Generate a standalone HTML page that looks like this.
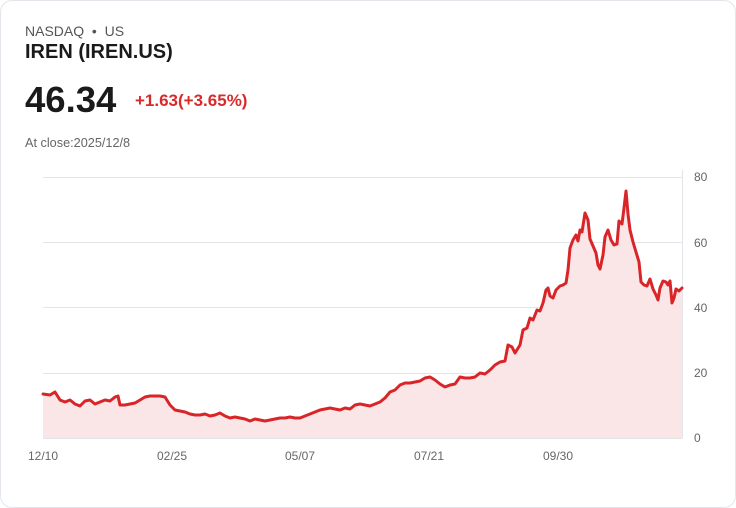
<!DOCTYPE html>
<html><head><meta charset="utf-8"><style>
body{margin:0;background:#fff;font-family:"Liberation Sans",sans-serif;}
.card{position:absolute;left:0;top:0;width:734px;height:506px;border:1px solid #e3e6ea;border-radius:12px;}
.t{position:absolute;white-space:nowrap}
</style></head><body>
<div class="card"></div>
<div class="t" style="left:25px;top:23px;font-size:14px;color:#555">NASDAQ &nbsp;• &nbsp;US</div>
<div class="t" style="left:25px;top:41px;font-size:20px;font-weight:bold;color:#1a1a1a">IREN (IREN.US)</div>
<div class="t" style="left:25px;top:79px;font-size:36.5px;font-weight:bold;color:#1a1a1a">46.34</div>
<div class="t" style="left:135px;top:91px;font-size:17px;font-weight:bold;color:#d92a2a">+1.63(+3.65%)</div>
<div class="t" style="left:25px;top:136px;font-size:12.7px;color:#666">At close:2025/12/8</div>
<svg width="736" height="508" style="position:absolute;left:0;top:0">
<g stroke="#e2e4e8" stroke-width="1">
<line x1="43" y1="177.5" x2="682" y2="177.5"/><line x1="43" y1="242.5" x2="682" y2="242.5"/>
<line x1="43" y1="307.5" x2="682" y2="307.5"/><line x1="43" y1="373.5" x2="682" y2="373.5"/>
<line x1="43" y1="438.5" x2="682" y2="438.5"/><line x1="682.5" y1="170" x2="682.5" y2="438"/>
</g>
<g font-size="12" fill="#666" font-family="Liberation Sans,sans-serif">
<text x="694" y="181">80</text><text x="694" y="247">60</text><text x="694" y="312">40</text><text x="694" y="377">20</text><text x="694" y="442">0</text>
<text x="28" y="460">12/10</text><text x="157" y="460">02/25</text><text x="285" y="460">05/07</text><text x="414" y="460">07/21</text><text x="543" y="460">09/30</text>
</g>
<polygon fill="#fbe6e7" points="43,438 43,394 50,395 55,392 60,400 65,402 70,400 75,404 80,406 85,401 90,400 95,404 100,402 105,400 110,401 115,397 118,396 120,405 125,405 130,404 135,403 140,400 145,397 150,396 155,396 160,396 165,397 170,405 175,410 180,411 185,412 190,414 195,415 200,415 205,414 210,416 215,415 220,413 225,416 230,418 235,417 240,418 245,419 250,421 255,419 260,420 265,421 270,420 275,419 280,418 285,418 290,417 295,418 300,418 305,416 310,414 315,412 320,410 325,409 330,408 335,409 340,410 345,408 350,409 355,405 360,404 365,405 370,406 375,404 380,402 385,398 390,392 395,390 400,385 405,383 410,383 415,382 420,381 425,378 430,377 435,380 440,384 445,387 450,385 455,384 460,377 465,378 470,378 475,377 480,373 485,374 490,370 495,365 500,362 505,361 508,345 512,347 515,353 520,345 523,330 527,328 530,318 533,320 537,310 540,311 543,303 546,290 548,288 550,296 553,298 556,290 560,286 563,285 566,283 568,270 570,248 573,240 576,235 578,241 580,230 582,232 585,213 588,220 590,239 593,246 596,253 598,265 600,269 603,255 605,237 608,230 611,240 614,245 617,244 619,221 622,224 624,208 626,191 628,214 630,230 633,242 636,252 639,262 641,282 644,285 647,286 650,279 653,289 656,295 658,300 660,288 663,281 666,282 668,285 670,281 672,303 674,298 676,289 679,291 682,288 682,438"/>
<polyline fill="none" stroke="#d92428" stroke-width="3" stroke-linejoin="round" stroke-linecap="round" points="43,394 50,395 55,392 60,400 65,402 70,400 75,404 80,406 85,401 90,400 95,404 100,402 105,400 110,401 115,397 118,396 120,405 125,405 130,404 135,403 140,400 145,397 150,396 155,396 160,396 165,397 170,405 175,410 180,411 185,412 190,414 195,415 200,415 205,414 210,416 215,415 220,413 225,416 230,418 235,417 240,418 245,419 250,421 255,419 260,420 265,421 270,420 275,419 280,418 285,418 290,417 295,418 300,418 305,416 310,414 315,412 320,410 325,409 330,408 335,409 340,410 345,408 350,409 355,405 360,404 365,405 370,406 375,404 380,402 385,398 390,392 395,390 400,385 405,383 410,383 415,382 420,381 425,378 430,377 435,380 440,384 445,387 450,385 455,384 460,377 465,378 470,378 475,377 480,373 485,374 490,370 495,365 500,362 505,361 508,345 512,347 515,353 520,345 523,330 527,328 530,318 533,320 537,310 540,311 543,303 546,290 548,288 550,296 553,298 556,290 560,286 563,285 566,283 568,270 570,248 573,240 576,235 578,241 580,230 582,232 585,213 588,220 590,239 593,246 596,253 598,265 600,269 603,255 605,237 608,230 611,240 614,245 617,244 619,221 622,224 624,208 626,191 628,214 630,230 633,242 636,252 639,262 641,282 644,285 647,286 650,279 653,289 656,295 658,300 660,288 663,281 666,282 668,285 670,281 672,303 674,298 676,289 679,291 682,288"/>
</svg>
</body></html>
